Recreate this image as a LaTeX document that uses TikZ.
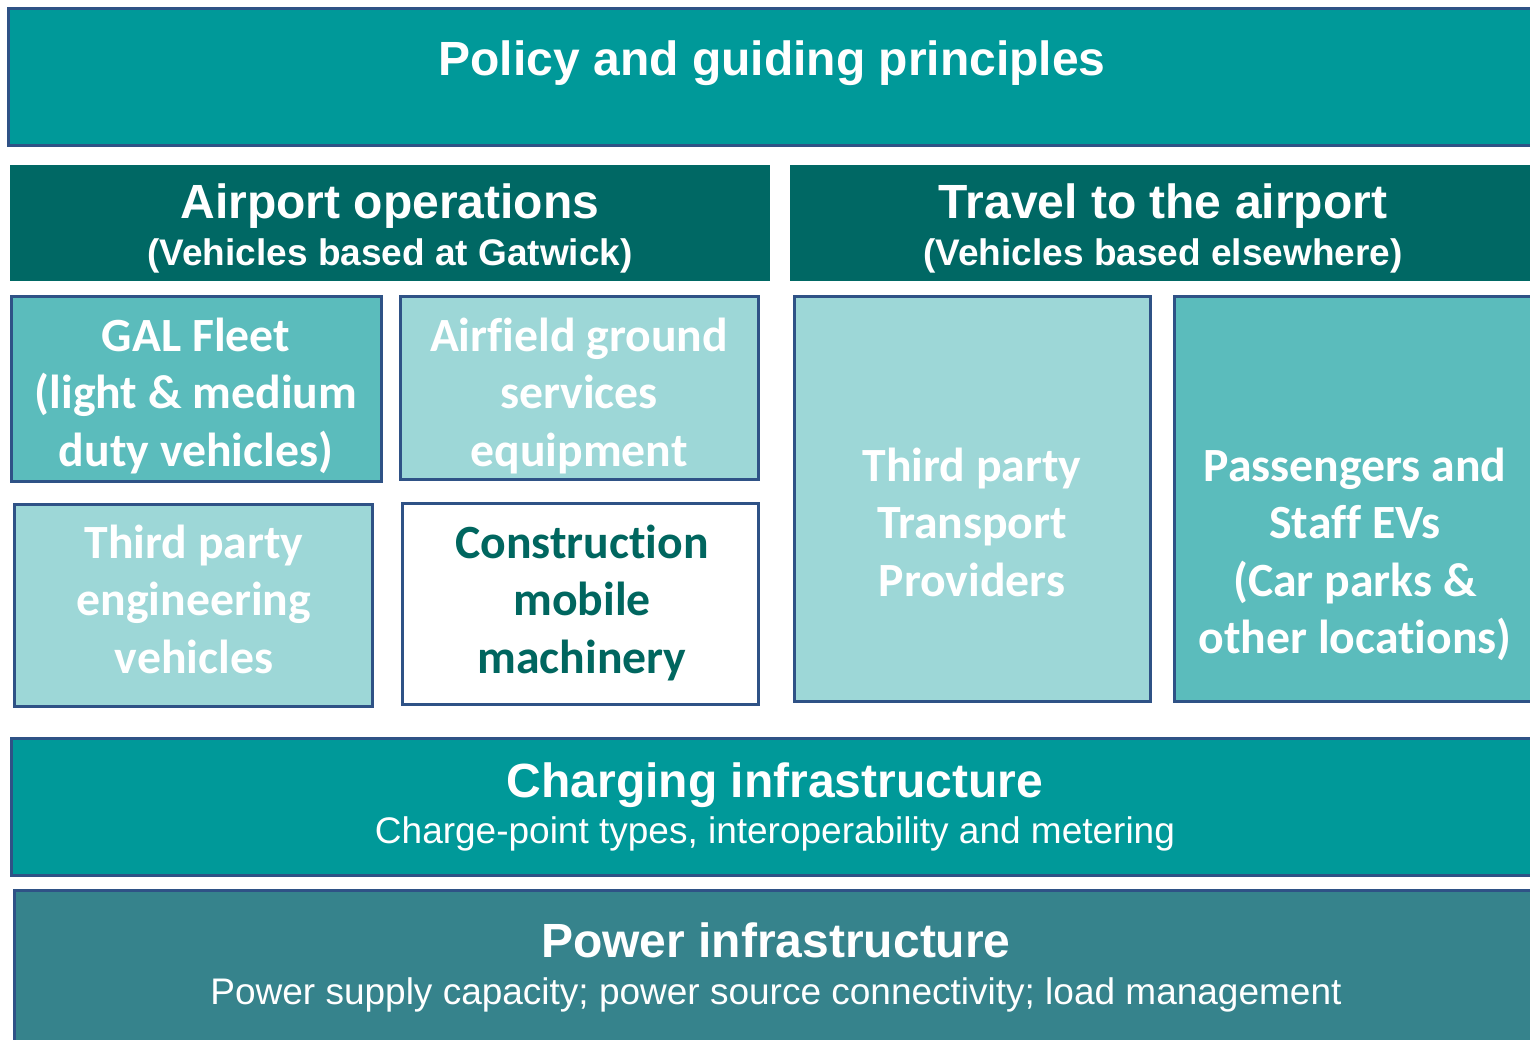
\documentclass[tikz,border=0pt]{standalone}
\usepackage{fontspec}
\setmainfont{Liberation Sans}
\newfontfamily\calib[Ligatures={NoCommon}]{Carlito}
\definecolor{teal}{HTML}{009999}
\definecolor{darkteal}{HTML}{006864}
\definecolor{midteal}{HTML}{5BBCBC}
\definecolor{lightteal}{HTML}{9DD7D7}
\definecolor{powerteal}{HTML}{36838C}
\definecolor{bordercol}{HTML}{2F5286}
\definecolor{constext}{HTML}{00665F}
\tikzset{
  panel/.style={draw=bordercol, line width=3pt, inner sep=0pt, outer sep=0pt},
  header/.style={draw=none, inner sep=0pt, outer sep=0pt, fill=darkteal},
  bigtitle/.style={anchor=base, inner sep=0pt, text=white, font=\fontsize{48}{57}\selectfont\bfseries},
  subtitle/.style={anchor=base, inner sep=0pt, text=white, font=\fontsize{37}{44}\selectfont\bfseries},
  subplain/.style={anchor=base, inner sep=0pt, text=white, font=\fontsize{37}{44}\selectfont},
  boxtext/.style={anchor=base, inner sep=0pt, text=white, font=\calib\fontsize{47.7}{57.5}\selectfont\bfseries},
}
\newcommand{\lines}[1]{\begin{tabular}[t]{@{}c@{}}#1\end{tabular}}
\begin{document}
\begin{tikzpicture}[x=1pt,y=-1pt]
\useasboundingbox (0,0) rectangle (1530,1040);
\clip (0,0) rectangle (1530,1040);
% boxes
\node[panel, fill=teal, minimum width=1535pt, minimum height=137pt] (policy) at (776,77) {};
\node[header, minimum width=760pt, minimum height=116pt] (airhead) at (390,223) {};
\node[header, minimum width=755pt, minimum height=116pt] (travhead) at (1167.5,223) {};
\node[panel, fill=midteal, minimum width=370pt, minimum height=185pt] (gal) at (196.5,389) {};
\node[panel, fill=lightteal, minimum width=358pt, minimum height=183pt] (airfield) at (579.5,388) {};
\node[panel, fill=lightteal, minimum width=358pt, minimum height=202pt] (tpe) at (193.5,605.5) {};
\node[panel, fill=white, minimum width=356pt, minimum height=201pt] (cons) at (580.5,604) {};
\node[panel, fill=lightteal, minimum width=356pt, minimum height=405pt] (tpt) at (972.5,499) {};
\node[panel, fill=midteal, minimum width=369pt, minimum height=405pt] (pass) at (1359,499) {};
\node[panel, fill=teal, minimum width=1532pt, minimum height=137pt] (charging) at (777.5,807) {};
\node[panel, fill=powerteal, minimum width=1529pt, minimum height=160pt] (power) at (779,970) {};
% texts
\node[bigtitle] (policyT) at (772,76) {Policy and guiding principles};
\node[bigtitle] (airheadT) at (390,219) {Airport operations};
\node[subtitle] (airheadS) at (390,266) {(Vehicles based at Gatwick)};
\node[bigtitle] (travheadT) at (1163,219) {Travel to the airport};
\node[subtitle] (travheadS) at (1163,266) {(Vehicles based elsewhere)};
\node[boxtext] (galT) at (196,351) {\lines{GAL Fleet\\(light \& medium\\duty vehicles)}};
\node[boxtext] (airfieldT) at (579,351) {\lines{Airfield ground\\services\\equipment}};
\node[boxtext] (tpeT) at (194,558) {\lines{Third party\\engineering\\vehicles}};
\node[boxtext, text=constext] (consT) at (582,558) {\lines{Construction\\mobile\\machinery}};
\node[boxtext] (tptT) at (972,481) {\lines{Third party\\Transport\\Providers}};
\node[boxtext] (passT) at (1355,481) {\lines{Passengers and\\Staff EVs\\(Car parks \&\\other locations)}};
\node[bigtitle] (chargingT) at (775,797) {Charging infrastructure};
\node[subplain] (chargingS) at (775,843) {Charge-point types, interoperability and metering};
\node[bigtitle] (powerT) at (776,957) {Power infrastructure};
\node[subplain] (powerS) at (776,1004) {Power supply capacity; power source connectivity; load management};
\end{tikzpicture}
\end{document}
